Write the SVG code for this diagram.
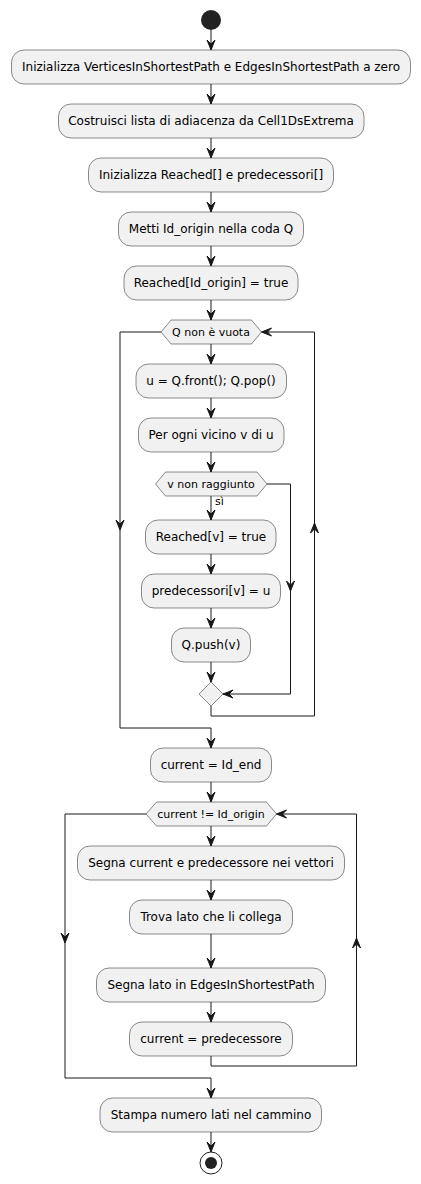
<svg xmlns="http://www.w3.org/2000/svg" xmlns:xlink="http://www.w3.org/1999/xlink" width="421" height="1184" viewBox="0 0 421 1184">
<style>
.box{fill:#F1F1F1;stroke:#181818;stroke-width:0.5}
.t{font-family:"DejaVu Sans","Noto Sans",sans-serif;font-size:12px;fill:#000;text-anchor:middle}
.ht{font-family:"DejaVu Sans","Noto Sans",sans-serif;font-size:11px;fill:#000;text-anchor:middle}
.lt{font-family:"DejaVu Sans","Noto Sans",sans-serif;font-size:11px;fill:#000}
.ln{fill:none;stroke:#181818;stroke-width:1}
.ah{fill:#181818;stroke:#181818;stroke-width:1}
</style>
<defs>
<path id="ah" class="ah" d="M-4,-10 L0,0 L4,-10 L0,-6 Z"/>
</defs>
<rect width="421" height="1184" fill="#FFFFFF"/>

<g id="connectors">
<line class="ln" x1="211" y1="30" x2="211" y2="50"/>
<use xlink:href="#ah" href="#ah" transform="translate(211,50)"/>
<line class="ln" x1="211" y1="84" x2="211" y2="104"/>
<use xlink:href="#ah" href="#ah" transform="translate(211,104)"/>
<line class="ln" x1="211" y1="138" x2="211" y2="158"/>
<use xlink:href="#ah" href="#ah" transform="translate(211,158)"/>
<line class="ln" x1="211" y1="192" x2="211" y2="212"/>
<use xlink:href="#ah" href="#ah" transform="translate(211,212)"/>
<line class="ln" x1="211" y1="246" x2="211" y2="266"/>
<use xlink:href="#ah" href="#ah" transform="translate(211,266)"/>
<line class="ln" x1="211" y1="300" x2="211" y2="320"/>
<use xlink:href="#ah" href="#ah" transform="translate(211,320)"/>
<line class="ln" x1="211" y1="344" x2="211" y2="364"/>
<use xlink:href="#ah" href="#ah" transform="translate(211,364)"/>
<line class="ln" x1="211" y1="398" x2="211" y2="418"/>
<use xlink:href="#ah" href="#ah" transform="translate(211,418)"/>
<line class="ln" x1="211" y1="452" x2="211" y2="472"/>
<use xlink:href="#ah" href="#ah" transform="translate(211,472)"/>
<line class="ln" x1="211" y1="496" x2="211" y2="520"/>
<use xlink:href="#ah" href="#ah" transform="translate(211,520)"/>
<text class="lt" x="215" y="505">sì</text>
<line class="ln" x1="211" y1="554" x2="211" y2="574"/>
<use xlink:href="#ah" href="#ah" transform="translate(211,574)"/>
<line class="ln" x1="211" y1="608" x2="211" y2="628"/>
<use xlink:href="#ah" href="#ah" transform="translate(211,628)"/>
<line class="ln" x1="211" y1="662" x2="211" y2="682"/>
<use xlink:href="#ah" href="#ah" transform="translate(211,682)"/>
<!-- else branch of v non raggiunto -->
<polyline class="ln" points="267,484 290.5,484 290.5,694 223,694"/>
<use xlink:href="#ah" href="#ah" transform="translate(290.5,591)"/>
<use xlink:href="#ah" href="#ah" transform="translate(223,694) rotate(90)"/>
<!-- loop back of while Q -->
<polyline class="ln" points="211,706 211,716 314.5,716 314.5,332 261.5,332"/>
<use xlink:href="#ah" href="#ah" transform="translate(314.5,523) rotate(180)"/>
<use xlink:href="#ah" href="#ah" transform="translate(261.5,332) rotate(90)"/>
<!-- exit of while Q -->
<polyline class="ln" points="161,332 120,332 120,728 211,728 211,748"/>
<use xlink:href="#ah" href="#ah" transform="translate(120,530)"/>
<use xlink:href="#ah" href="#ah" transform="translate(211,748)"/>
<line class="ln" x1="211" y1="782" x2="211" y2="802"/>
<use xlink:href="#ah" href="#ah" transform="translate(211,802)"/>
<line class="ln" x1="211" y1="826" x2="211" y2="846"/>
<use xlink:href="#ah" href="#ah" transform="translate(211,846)"/>
<line class="ln" x1="211" y1="880" x2="211" y2="900"/>
<use xlink:href="#ah" href="#ah" transform="translate(211,900)"/>
<line class="ln" x1="211" y1="934" x2="211" y2="968"/>
<use xlink:href="#ah" href="#ah" transform="translate(211,968)"/>
<line class="ln" x1="211" y1="1002" x2="211" y2="1022"/>
<use xlink:href="#ah" href="#ah" transform="translate(211,1022)"/>
<!-- loop back of while current -->
<polyline class="ln" points="211,1056 211,1066 356.5,1066 356.5,814 276.5,814"/>
<use xlink:href="#ah" href="#ah" transform="translate(356.5,938) rotate(180)"/>
<use xlink:href="#ah" href="#ah" transform="translate(276.5,814) rotate(90)"/>
<!-- exit of while current -->
<polyline class="ln" points="146,814 65,814 65,1078 211,1078 211,1098"/>
<use xlink:href="#ah" href="#ah" transform="translate(65,943)"/>
<use xlink:href="#ah" href="#ah" transform="translate(211,1098)"/>
<line class="ln" x1="211" y1="1132" x2="211" y2="1152"/>
<use xlink:href="#ah" href="#ah" transform="translate(211,1152)"/>
</g>

<g id="start"><circle cx="211" cy="20" r="10" fill="#222222"/></g>
<g id="n1"><rect class="box" x="11.5" y="50" width="399" height="34" rx="12.5"/><text class="t" x="211" y="71">Inizializza VerticesInShortestPath e EdgesInShortestPath a zero</text></g>
<g id="n2"><rect class="box" x="58.5" y="104" width="305.5" height="34" rx="12.5"/><text class="t" x="211" y="125">Costruisci lista di adiacenza da Cell1DsExtrema</text></g>
<g id="n3"><rect class="box" x="88.5" y="158" width="245" height="34" rx="12.5"/><text class="t" x="211" y="179">Inizializza Reached[] e predecessori[]</text></g>
<g id="n4"><rect class="box" x="118.5" y="212" width="185" height="34" rx="12.5"/><text class="t" x="211" y="233">Metti Id_origin nella coda Q</text></g>
<g id="n5"><rect class="box" x="124" y="266" width="174" height="34" rx="12.5"/><text class="t" x="211" y="287">Reached[Id_origin] = true</text></g>
<g id="w1"><polygon class="box" points="161,332 171,320 251.5,320 261.5,332 251.5,344 171,344"/><text class="ht" x="211" y="336">Q non è vuota</text></g>
<g id="n6"><rect class="box" x="136" y="364" width="150.5" height="34" rx="12.5"/><text class="t" x="211" y="385">u = Q.front(); Q.pop()</text></g>
<g id="n7"><rect class="box" x="138.5" y="418" width="145.5" height="34" rx="12.5"/><text class="t" x="211" y="439">Per ogni vicino v di u</text></g>
<g id="if1"><polygon class="box" points="155.5,484 165.5,472 257,472 267,484 257,496 165.5,496"/><text class="ht" x="211" y="488">v non raggiunto</text></g>
<g id="n8"><rect class="box" x="145.5" y="520" width="130.5" height="34" rx="12.5"/><text class="t" x="211" y="541">Reached[v] = true</text></g>
<g id="n9"><rect class="box" x="141.5" y="574" width="139" height="34" rx="12.5"/><text class="t" x="211" y="595">predecessori[v] = u</text></g>
<g id="n10"><rect class="box" x="171.5" y="628" width="79" height="34" rx="12.5"/><text class="t" x="211" y="649">Q.push(v)</text></g>
<g id="m1"><polygon class="box" points="211,682 223,694 211,706 199,694"/></g>
<g id="n11"><rect class="box" x="150.5" y="748" width="121" height="34" rx="12.5"/><text class="t" x="211" y="769">current = Id_end</text></g>
<g id="w2"><polygon class="box" points="146,814 156.5,802 266.5,802 276.5,814 266.5,826 156.5,826"/><text class="ht" x="211" y="818">current != Id_origin</text></g>
<g id="n12"><rect class="box" x="77.5" y="846" width="267" height="34" rx="12.5"/><text class="t" x="211" y="867">Segna current e predecessore nei vettori</text></g>
<g id="n13"><rect class="box" x="129.5" y="900" width="163" height="34" rx="12.5"/><text class="t" x="211" y="921">Trova lato che li collega</text></g>
<g id="n14"><rect class="box" x="96.5" y="968" width="229" height="34" rx="12.5"/><text class="t" x="211" y="989">Segna lato in EdgesInShortestPath</text></g>
<g id="n15"><rect class="box" x="129.5" y="1022" width="163" height="34" rx="12.5"/><text class="t" x="211" y="1043">current = predecessore</text></g>
<g id="n16"><rect class="box" x="100" y="1098" width="221.5" height="34" rx="12.5"/><text class="t" x="211" y="1119">Stampa numero lati nel cammino</text></g>
<g id="end"><circle cx="211" cy="1163" r="11" fill="none" stroke="#222222" stroke-width="1"/><circle cx="211" cy="1163" r="6" fill="#222222"/></g>
</svg>
